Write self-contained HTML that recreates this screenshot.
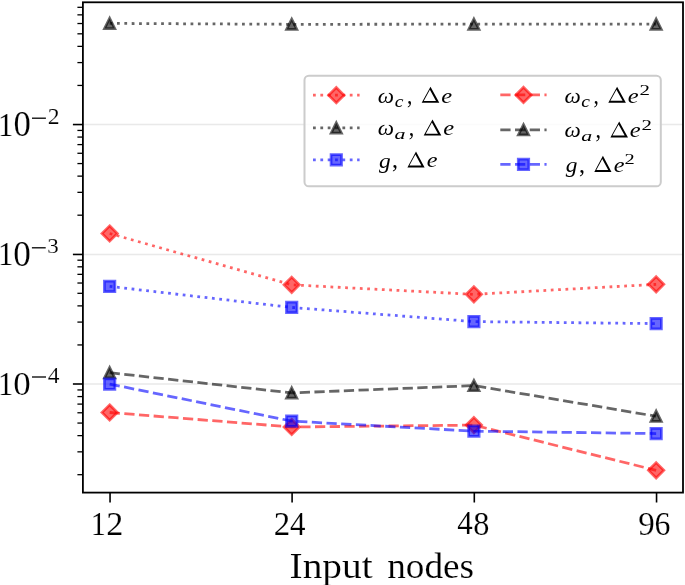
<!DOCTYPE html>
<html><head><meta charset="utf-8"><style>
html,body{margin:0;padding:0;background:#fff;}
body{width:685px;height:585px;overflow:hidden;}
svg{display:block;font-kerning:none;-webkit-font-smoothing:antialiased;will-change:transform;}
text{font-family:"Liberation Serif",serif;}
</style></head><body>
<svg width="685" height="585" viewBox="0 0 685 585">
<rect width="685" height="585" fill="#fff"/>
<line x1="82.9" y1="124.55" x2="683.0" y2="124.55" stroke="#b0b0b0" stroke-opacity="0.28" stroke-width="1.6"/>
<line x1="82.9" y1="254.45" x2="683.0" y2="254.45" stroke="#b0b0b0" stroke-opacity="0.28" stroke-width="1.6"/>
<line x1="82.9" y1="384.00" x2="683.0" y2="384.00" stroke="#b0b0b0" stroke-opacity="0.28" stroke-width="1.6"/>
<polyline points="109.65,233.50 291.70,284.85 473.90,294.35 656.15,284.35" fill="none" stroke="#ff0000" stroke-opacity="0.6" stroke-width="2.775" stroke-dasharray="2.775,4.579" stroke-linecap="butt" stroke-linejoin="round"/>
<path d="M109.65,225.79L117.36,233.50L109.65,241.21L101.94,233.50Z" fill="#ff0000" fill-opacity="0.6" stroke="#ff0000" stroke-opacity="0.6" stroke-width="2.7" stroke-linejoin="miter"/>
<path d="M291.70,277.14L299.41,284.85L291.70,292.56L283.99,284.85Z" fill="#ff0000" fill-opacity="0.6" stroke="#ff0000" stroke-opacity="0.6" stroke-width="2.7" stroke-linejoin="miter"/>
<path d="M473.90,286.64L481.61,294.35L473.90,302.06L466.19,294.35Z" fill="#ff0000" fill-opacity="0.6" stroke="#ff0000" stroke-opacity="0.6" stroke-width="2.7" stroke-linejoin="miter"/>
<path d="M656.15,276.64L663.86,284.35L656.15,292.06L648.44,284.35Z" fill="#ff0000" fill-opacity="0.6" stroke="#ff0000" stroke-opacity="0.6" stroke-width="2.7" stroke-linejoin="miter"/>
<polyline points="109.65,23.40 291.70,24.30 473.90,24.20 656.15,24.20" fill="none" stroke="#000000" stroke-opacity="0.6" stroke-width="2.775" stroke-dasharray="2.775,4.579" stroke-linecap="butt" stroke-linejoin="round"/>
<path d="M109.65,18.25L114.80,28.55L104.50,28.55Z" fill="#000000" fill-opacity="0.6" stroke="#000000" stroke-opacity="0.6" stroke-width="2.7" stroke-linejoin="miter"/>
<path d="M291.70,19.15L296.85,29.45L286.55,29.45Z" fill="#000000" fill-opacity="0.6" stroke="#000000" stroke-opacity="0.6" stroke-width="2.7" stroke-linejoin="miter"/>
<path d="M473.90,19.05L479.05,29.35L468.75,29.35Z" fill="#000000" fill-opacity="0.6" stroke="#000000" stroke-opacity="0.6" stroke-width="2.7" stroke-linejoin="miter"/>
<path d="M656.15,19.05L661.30,29.35L651.00,29.35Z" fill="#000000" fill-opacity="0.6" stroke="#000000" stroke-opacity="0.6" stroke-width="2.7" stroke-linejoin="miter"/>
<polyline points="109.65,286.40 291.70,307.45 473.90,321.60 656.15,323.60" fill="none" stroke="#0000ff" stroke-opacity="0.6" stroke-width="2.775" stroke-dasharray="2.775,4.579" stroke-linecap="butt" stroke-linejoin="round"/>
<path d="M104.40,281.15H114.90V291.65H104.40Z" fill="#0000ff" fill-opacity="0.6" stroke="#0000ff" stroke-opacity="0.6" stroke-width="2.7" stroke-linejoin="miter"/>
<path d="M286.45,302.20H296.95V312.70H286.45Z" fill="#0000ff" fill-opacity="0.6" stroke="#0000ff" stroke-opacity="0.6" stroke-width="2.7" stroke-linejoin="miter"/>
<path d="M468.65,316.35H479.15V326.85H468.65Z" fill="#0000ff" fill-opacity="0.6" stroke="#0000ff" stroke-opacity="0.6" stroke-width="2.7" stroke-linejoin="miter"/>
<path d="M650.90,318.35H661.40V328.85H650.90Z" fill="#0000ff" fill-opacity="0.6" stroke="#0000ff" stroke-opacity="0.6" stroke-width="2.7" stroke-linejoin="miter"/>
<polyline points="109.65,412.50 291.70,427.00 473.90,425.10 656.15,470.35" fill="none" stroke="#ff0000" stroke-opacity="0.6" stroke-width="2.775" stroke-dasharray="10.268,4.440" stroke-linecap="butt" stroke-linejoin="round"/>
<path d="M109.65,404.79L117.36,412.50L109.65,420.21L101.94,412.50Z" fill="#ff0000" fill-opacity="0.6" stroke="#ff0000" stroke-opacity="0.6" stroke-width="2.7" stroke-linejoin="miter"/>
<path d="M291.70,419.29L299.41,427.00L291.70,434.71L283.99,427.00Z" fill="#ff0000" fill-opacity="0.6" stroke="#ff0000" stroke-opacity="0.6" stroke-width="2.7" stroke-linejoin="miter"/>
<path d="M473.90,417.39L481.61,425.10L473.90,432.81L466.19,425.10Z" fill="#ff0000" fill-opacity="0.6" stroke="#ff0000" stroke-opacity="0.6" stroke-width="2.7" stroke-linejoin="miter"/>
<path d="M656.15,462.64L663.86,470.35L656.15,478.06L648.44,470.35Z" fill="#ff0000" fill-opacity="0.6" stroke="#ff0000" stroke-opacity="0.6" stroke-width="2.7" stroke-linejoin="miter"/>
<polyline points="109.65,372.70 291.70,392.90 473.90,385.60 656.15,416.25" fill="none" stroke="#000000" stroke-opacity="0.6" stroke-width="2.775" stroke-dasharray="10.268,4.440" stroke-linecap="butt" stroke-linejoin="round"/>
<path d="M109.65,367.55L114.80,377.85L104.50,377.85Z" fill="#000000" fill-opacity="0.6" stroke="#000000" stroke-opacity="0.6" stroke-width="2.7" stroke-linejoin="miter"/>
<path d="M291.70,387.75L296.85,398.05L286.55,398.05Z" fill="#000000" fill-opacity="0.6" stroke="#000000" stroke-opacity="0.6" stroke-width="2.7" stroke-linejoin="miter"/>
<path d="M473.90,380.45L479.05,390.75L468.75,390.75Z" fill="#000000" fill-opacity="0.6" stroke="#000000" stroke-opacity="0.6" stroke-width="2.7" stroke-linejoin="miter"/>
<path d="M656.15,411.10L661.30,421.40L651.00,421.40Z" fill="#000000" fill-opacity="0.6" stroke="#000000" stroke-opacity="0.6" stroke-width="2.7" stroke-linejoin="miter"/>
<polyline points="109.65,384.05 291.70,421.10 473.90,431.15 656.15,433.55" fill="none" stroke="#0000ff" stroke-opacity="0.6" stroke-width="2.775" stroke-dasharray="10.268,4.440" stroke-linecap="butt" stroke-linejoin="round"/>
<path d="M104.40,378.80H114.90V389.30H104.40Z" fill="#0000ff" fill-opacity="0.6" stroke="#0000ff" stroke-opacity="0.6" stroke-width="2.7" stroke-linejoin="miter"/>
<path d="M286.45,415.85H296.95V426.35H286.45Z" fill="#0000ff" fill-opacity="0.6" stroke="#0000ff" stroke-opacity="0.6" stroke-width="2.7" stroke-linejoin="miter"/>
<path d="M468.65,425.90H479.15V436.40H468.65Z" fill="#0000ff" fill-opacity="0.6" stroke="#0000ff" stroke-opacity="0.6" stroke-width="2.7" stroke-linejoin="miter"/>
<path d="M650.90,428.30H661.40V438.80H650.90Z" fill="#0000ff" fill-opacity="0.6" stroke="#0000ff" stroke-opacity="0.6" stroke-width="2.7" stroke-linejoin="miter"/>
<rect x="304.5" y="75.65" width="356.30" height="110.65" rx="4.4" ry="4.4" fill="#fff" fill-opacity="0.8" stroke="#cccccc" stroke-opacity="1" stroke-width="2.0"/>
<line x1="313.0" y1="95.2" x2="359.6" y2="95.2" stroke="#ff0000" stroke-opacity="0.6" stroke-width="2.775" stroke-dasharray="2.775,4.579" stroke-linecap="butt"/><path d="M336.30,87.49L344.01,95.20L336.30,102.91L328.59,95.20Z" fill="#ff0000" fill-opacity="0.6" stroke="#ff0000" stroke-opacity="0.6" stroke-width="2.7" stroke-linejoin="miter"/>
<line x1="313.0" y1="127.95" x2="359.6" y2="127.95" stroke="#000000" stroke-opacity="0.6" stroke-width="2.775" stroke-dasharray="2.775,4.579" stroke-linecap="butt"/><path d="M336.30,122.80L341.45,133.10L331.15,133.10Z" fill="#000000" fill-opacity="0.6" stroke="#000000" stroke-opacity="0.6" stroke-width="2.7" stroke-linejoin="miter"/>
<line x1="313.0" y1="159.8" x2="359.6" y2="159.8" stroke="#0000ff" stroke-opacity="0.6" stroke-width="2.775" stroke-dasharray="2.775,4.579" stroke-linecap="butt"/><path d="M331.05,154.55H341.55V165.05H331.05Z" fill="#0000ff" fill-opacity="0.6" stroke="#0000ff" stroke-opacity="0.6" stroke-width="2.7" stroke-linejoin="miter"/>
<line x1="500.3" y1="94.95" x2="546.6" y2="94.95" stroke="#ff0000" stroke-opacity="0.6" stroke-width="2.775" stroke-dasharray="10.268,4.440" stroke-linecap="butt"/><path d="M523.50,87.24L531.21,94.95L523.50,102.66L515.79,94.95Z" fill="#ff0000" fill-opacity="0.6" stroke="#ff0000" stroke-opacity="0.6" stroke-width="2.7" stroke-linejoin="miter"/>
<line x1="500.3" y1="129.8" x2="546.6" y2="129.8" stroke="#000000" stroke-opacity="0.6" stroke-width="2.775" stroke-dasharray="10.268,4.440" stroke-linecap="butt"/><path d="M523.50,124.65L528.65,134.95L518.35,134.95Z" fill="#000000" fill-opacity="0.6" stroke="#000000" stroke-opacity="0.6" stroke-width="2.7" stroke-linejoin="miter"/>
<line x1="500.3" y1="164.45" x2="546.6" y2="164.45" stroke="#0000ff" stroke-opacity="0.6" stroke-width="2.775" stroke-dasharray="10.268,4.440" stroke-linecap="butt"/><path d="M518.25,159.20H528.75V169.70H518.25Z" fill="#0000ff" fill-opacity="0.6" stroke="#0000ff" stroke-opacity="0.6" stroke-width="2.7" stroke-linejoin="miter"/>
<text transform="translate(377.83,102.60) scale(1.1492,1)" font-size="20.06" font-family="Liberation Serif" font-style="italic" fill="#000">ω</text>
<text transform="translate(394.70,106.84) scale(1.1804,1)" font-size="16.63" font-family="Liberation Serif" font-style="italic" fill="#000">c</text>
<text transform="translate(406.98,103.55) scale(0.8362,1)" font-size="25.70" font-family="Liberation Serif" fill="#000">,</text>
<path d="M430.50,86.70L439.30,102.80L421.70,102.80ZM429.87,89.72L423.76,100.90L435.98,100.90Z" fill="#000" fill-rule="evenodd"/>
<text transform="translate(441.14,102.60) scale(1.1939,1)" font-size="20.58" font-family="Liberation Serif" font-style="italic" fill="#000">e</text>
<text transform="translate(377.83,135.40) scale(1.1492,1)" font-size="20.06" font-family="Liberation Serif" font-style="italic" fill="#000">ω</text>
<text transform="translate(394.55,139.44) scale(1.4272,1)" font-size="15.39" font-family="Liberation Serif" font-style="italic" fill="#000">a</text>
<text transform="translate(408.76,136.35) scale(0.8623,1)" font-size="25.70" font-family="Liberation Serif" fill="#000">,</text>
<path d="M432.50,119.50L441.30,135.60L423.70,135.60ZM431.87,122.52L425.76,133.70L437.98,133.70Z" fill="#000" fill-rule="evenodd"/>
<text transform="translate(443.14,135.40) scale(1.1939,1)" font-size="20.58" font-family="Liberation Serif" font-style="italic" fill="#000">e</text>
<text transform="translate(378.89,167.53) scale(1.0661,1)" font-size="21.94" font-family="Liberation Serif" font-style="italic" fill="#000">g</text>
<text transform="translate(392.08,168.49) scale(0.9266,1)" font-size="26.09" font-family="Liberation Serif" fill="#000">,</text>
<path d="M416.00,151.40L424.60,167.50L407.40,167.50ZM415.38,154.48L409.44,165.60L421.32,165.60Z" fill="#000" fill-rule="evenodd"/>
<text transform="translate(426.85,167.30) scale(1.1815,1)" font-size="20.58" font-family="Liberation Serif" font-style="italic" fill="#000">e</text>
<text transform="translate(564.43,102.55) scale(1.1492,1)" font-size="20.06" font-family="Liberation Serif" font-style="italic" fill="#000">ω</text>
<text transform="translate(581.30,106.79) scale(1.1804,1)" font-size="16.63" font-family="Liberation Serif" font-style="italic" fill="#000">c</text>
<text transform="translate(593.58,103.50) scale(0.8362,1)" font-size="25.70" font-family="Liberation Serif" fill="#000">,</text>
<path d="M617.10,86.65L625.90,102.75L608.30,102.75ZM616.47,89.67L610.36,100.85L622.58,100.85Z" fill="#000" fill-rule="evenodd"/>
<text transform="translate(627.74,102.55) scale(1.1939,1)" font-size="20.58" font-family="Liberation Serif" font-style="italic" fill="#000">e</text>
<text transform="translate(639.38,94.95) scale(1.4604,1)" font-size="14.35" font-family="Liberation Serif" fill="#000">2</text>
<text transform="translate(564.53,137.30) scale(1.1492,1)" font-size="20.06" font-family="Liberation Serif" font-style="italic" fill="#000">ω</text>
<text transform="translate(581.25,141.34) scale(1.4272,1)" font-size="15.39" font-family="Liberation Serif" font-style="italic" fill="#000">a</text>
<text transform="translate(595.46,138.25) scale(0.8623,1)" font-size="25.70" font-family="Liberation Serif" fill="#000">,</text>
<path d="M619.20,121.40L628.00,137.50L610.40,137.50ZM618.57,124.42L612.46,135.60L624.68,135.60Z" fill="#000" fill-rule="evenodd"/>
<text transform="translate(629.84,137.30) scale(1.1939,1)" font-size="20.58" font-family="Liberation Serif" font-style="italic" fill="#000">e</text>
<text transform="translate(641.48,129.70) scale(1.4604,1)" font-size="14.35" font-family="Liberation Serif" fill="#000">2</text>
<text transform="translate(565.79,171.93) scale(1.0661,1)" font-size="21.94" font-family="Liberation Serif" font-style="italic" fill="#000">g</text>
<text transform="translate(578.98,172.89) scale(0.9266,1)" font-size="26.09" font-family="Liberation Serif" fill="#000">,</text>
<path d="M602.90,155.80L611.50,171.90L594.30,171.90ZM602.28,158.88L596.34,170.00L608.22,170.00Z" fill="#000" fill-rule="evenodd"/>
<text transform="translate(613.75,171.70) scale(1.1815,1)" font-size="20.58" font-family="Liberation Serif" font-style="italic" fill="#000">e</text>
<text transform="translate(624.50,164.10) scale(1.4256,1)" font-size="14.35" font-family="Liberation Serif" fill="#000">2</text>
<rect x="82.9" y="2.3" width="600.10" height="490.30" fill="none" stroke="#000" stroke-width="1.8" stroke-linejoin="miter"/>
<line x1="77.4" y1="474.69" x2="82.9" y2="474.69" stroke="#000" stroke-width="1.3"/>
<line x1="77.4" y1="451.84" x2="82.9" y2="451.84" stroke="#000" stroke-width="1.3"/>
<line x1="77.4" y1="435.63" x2="82.9" y2="435.63" stroke="#000" stroke-width="1.3"/>
<line x1="77.4" y1="423.06" x2="82.9" y2="423.06" stroke="#000" stroke-width="1.3"/>
<line x1="77.4" y1="412.78" x2="82.9" y2="412.78" stroke="#000" stroke-width="1.3"/>
<line x1="77.4" y1="404.10" x2="82.9" y2="404.10" stroke="#000" stroke-width="1.3"/>
<line x1="77.4" y1="396.57" x2="82.9" y2="396.57" stroke="#000" stroke-width="1.3"/>
<line x1="77.4" y1="389.94" x2="82.9" y2="389.94" stroke="#000" stroke-width="1.3"/>
<line x1="72.9" y1="384.00" x2="82.9" y2="384.00" stroke="#000" stroke-width="1.6"/>
<line x1="77.4" y1="344.94" x2="82.9" y2="344.94" stroke="#000" stroke-width="1.3"/>
<line x1="77.4" y1="322.09" x2="82.9" y2="322.09" stroke="#000" stroke-width="1.3"/>
<line x1="77.4" y1="305.88" x2="82.9" y2="305.88" stroke="#000" stroke-width="1.3"/>
<line x1="77.4" y1="293.31" x2="82.9" y2="293.31" stroke="#000" stroke-width="1.3"/>
<line x1="77.4" y1="283.03" x2="82.9" y2="283.03" stroke="#000" stroke-width="1.3"/>
<line x1="77.4" y1="274.35" x2="82.9" y2="274.35" stroke="#000" stroke-width="1.3"/>
<line x1="77.4" y1="266.82" x2="82.9" y2="266.82" stroke="#000" stroke-width="1.3"/>
<line x1="77.4" y1="260.19" x2="82.9" y2="260.19" stroke="#000" stroke-width="1.3"/>
<line x1="72.9" y1="254.45" x2="82.9" y2="254.45" stroke="#000" stroke-width="1.6"/>
<line x1="77.4" y1="215.19" x2="82.9" y2="215.19" stroke="#000" stroke-width="1.3"/>
<line x1="77.4" y1="192.34" x2="82.9" y2="192.34" stroke="#000" stroke-width="1.3"/>
<line x1="77.4" y1="176.13" x2="82.9" y2="176.13" stroke="#000" stroke-width="1.3"/>
<line x1="77.4" y1="163.56" x2="82.9" y2="163.56" stroke="#000" stroke-width="1.3"/>
<line x1="77.4" y1="153.28" x2="82.9" y2="153.28" stroke="#000" stroke-width="1.3"/>
<line x1="77.4" y1="144.60" x2="82.9" y2="144.60" stroke="#000" stroke-width="1.3"/>
<line x1="77.4" y1="137.07" x2="82.9" y2="137.07" stroke="#000" stroke-width="1.3"/>
<line x1="77.4" y1="130.44" x2="82.9" y2="130.44" stroke="#000" stroke-width="1.3"/>
<line x1="72.9" y1="124.55" x2="82.9" y2="124.55" stroke="#000" stroke-width="1.6"/>
<line x1="77.4" y1="85.44" x2="82.9" y2="85.44" stroke="#000" stroke-width="1.3"/>
<line x1="77.4" y1="62.59" x2="82.9" y2="62.59" stroke="#000" stroke-width="1.3"/>
<line x1="77.4" y1="46.38" x2="82.9" y2="46.38" stroke="#000" stroke-width="1.3"/>
<line x1="77.4" y1="33.81" x2="82.9" y2="33.81" stroke="#000" stroke-width="1.3"/>
<line x1="77.4" y1="23.53" x2="82.9" y2="23.53" stroke="#000" stroke-width="1.3"/>
<line x1="77.4" y1="14.85" x2="82.9" y2="14.85" stroke="#000" stroke-width="1.3"/>
<line x1="77.4" y1="7.32" x2="82.9" y2="7.32" stroke="#000" stroke-width="1.3"/>
<line x1="110.05" y1="492.6" x2="110.05" y2="502.5" stroke="#000" stroke-width="1.6"/>
<line x1="292.10" y1="492.6" x2="292.10" y2="502.5" stroke="#000" stroke-width="1.6"/>
<line x1="474.30" y1="492.6" x2="474.30" y2="502.5" stroke="#000" stroke-width="1.6"/>
<line x1="656.55" y1="492.6" x2="656.55" y2="502.5" stroke="#000" stroke-width="1.6"/>
<text transform="translate(90.73,534.80) scale(0.9162,1)" font-size="33.17" font-family="Liberation Serif" fill="#000" stroke="#fff" stroke-width="0.15">1</text>
<text transform="translate(106.20,534.80) scale(1.0332,1)" font-size="33.08" font-family="Liberation Serif" fill="#000" stroke="#fff" stroke-width="0.15">2</text>
<text transform="translate(273.75,534.70) scale(0.9910,1)" font-size="33.23" font-family="Liberation Serif" fill="#000" stroke="#fff" stroke-width="0.15">2</text>
<text transform="translate(289.89,534.80) scale(0.8982,1)" font-size="34.49" font-family="Liberation Serif" fill="#000" stroke="#fff" stroke-width="0.15">4</text>
<text transform="translate(457.19,534.30) scale(0.8982,1)" font-size="34.49" font-family="Liberation Serif" fill="#000" stroke="#fff" stroke-width="0.15">4</text>
<text transform="translate(473.17,534.76) scale(0.9362,1)" font-size="34.53" font-family="Liberation Serif" fill="#000" stroke="#fff" stroke-width="0.15">8</text>
<text transform="translate(638.14,534.56) scale(0.9610,1)" font-size="34.38" font-family="Liberation Serif" fill="#000" stroke="#fff" stroke-width="0.15">9</text>
<text transform="translate(654.43,534.56) scale(0.9258,1)" font-size="34.38" font-family="Liberation Serif" fill="#000" stroke="#fff" stroke-width="0.15">6</text>
<text transform="translate(-2.00,136.00) scale(0.8961,1)" font-size="34.23" font-family="Liberation Serif" fill="#000" stroke="#fff" stroke-width="0.15">1</text>
<text transform="translate(13.38,136.26) scale(0.9834,1)" font-size="35.27" font-family="Liberation Serif" fill="#000" stroke="#fff" stroke-width="0.15">0</text>
<line x1="32.0" y1="118.2" x2="45.9" y2="118.2" stroke="#000" stroke-width="1.3"/>
<text transform="translate(47.76,123.90) scale(1.0531,1)" font-size="22.50" font-family="Liberation Serif" fill="#000" stroke="#fff" stroke-width="0.15">2</text>
<text transform="translate(-2.02,265.30) scale(0.9044,1)" font-size="34.23" font-family="Liberation Serif" fill="#000" stroke="#fff" stroke-width="0.15">1</text>
<text transform="translate(13.16,265.85) scale(0.9844,1)" font-size="35.71" font-family="Liberation Serif" fill="#000" stroke="#fff" stroke-width="0.15">0</text>
<line x1="31.9" y1="247.8" x2="45.7" y2="247.8" stroke="#000" stroke-width="1.3"/>
<text transform="translate(47.30,253.49) scale(1.0656,1)" font-size="21.58" font-family="Liberation Serif" fill="#000" stroke="#fff" stroke-width="0.15">3</text>
<text transform="translate(-2.00,394.60) scale(0.9164,1)" font-size="33.48" font-family="Liberation Serif" fill="#000" stroke="#fff" stroke-width="0.15">1</text>
<text transform="translate(13.27,395.16) scale(1.0070,1)" font-size="34.68" font-family="Liberation Serif" fill="#000" stroke="#fff" stroke-width="0.15">0</text>
<line x1="32.0" y1="377.0" x2="46.0" y2="377.0" stroke="#000" stroke-width="1.3"/>
<text transform="translate(47.64,382.80) scale(1.0221,1)" font-size="22.94" font-family="Liberation Serif" fill="#000" stroke="#fff" stroke-width="0.15">4</text>
<text transform="translate(289.58,577.85) scale(1.0839,1)" font-size="36.30" font-family="Liberation Serif" fill="#000" stroke="#fff" stroke-width="0.15">Input</text>
<text transform="translate(387.15,577.85) scale(1.0261,1)" font-size="36.30" font-family="Liberation Serif" fill="#000" stroke="#fff" stroke-width="0.15">nodes</text>
</svg>
</body></html>
